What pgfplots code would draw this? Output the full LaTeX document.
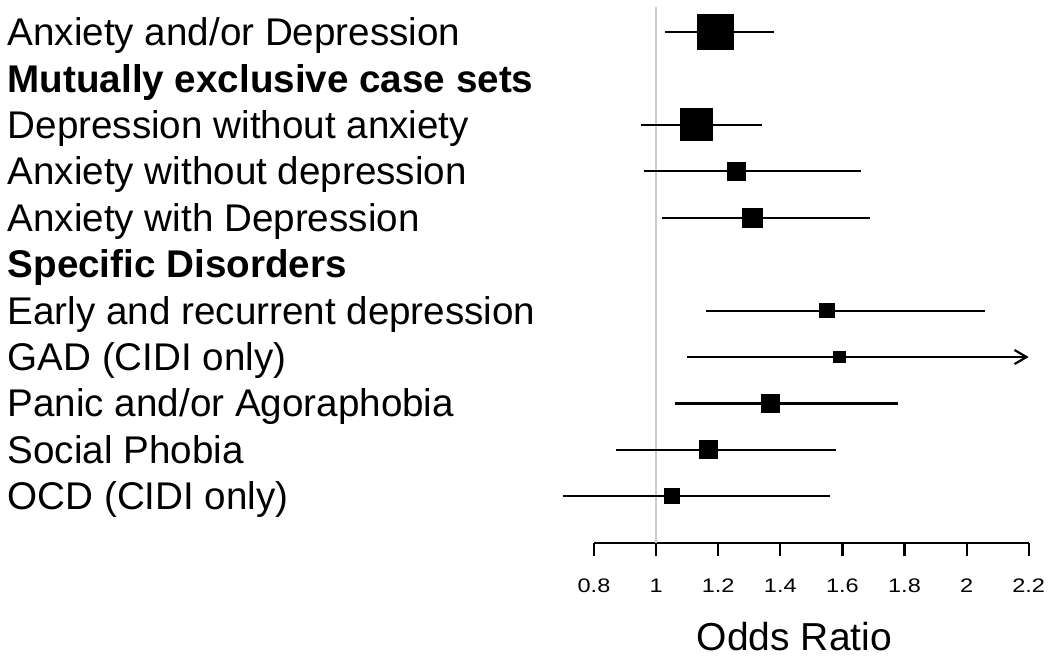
\documentclass[border=0pt]{standalone}
\usepackage{fontspec}
\setmainfont{Liberation Sans}
\newfontfamily\tickfont[FakeStretch=1.2]{Liberation Sans}
\usepackage{pgfplots}
\pgfplotsset{compat=1.18}
\usepackage{pgfplotstable}
\usetikzlibrary{arrows.meta}

% y = row position (11 = top), or = odds ratio, s = half side of square (pt)
\pgfplotstableread{
y or s
11 1.19 8.9
9 1.13 7.95
8 1.26 4.5
7 1.31 4.8
5 1.55 3.6
4 1.59 2.8
3 1.37 4.45
2 1.17 4.45
1 1.05 3.7
}\pointdata

\begin{document}
\begin{tikzpicture}
\path[use as bounding box] (0,0) rectangle (525pt,-329.5pt);
\begin{axis}[
 scale only axis, width=217.35pt, height=267.96pt,
 at={(297pt,-271.35pt)}, anchor=south west,
 xmin=0.8, xmax=2.2, ymin=0, ymax=11.545,
 clip=false,
 axis y line=none, axis x line*=bottom,
 x axis line style={-, line width=1.1pt},
 xtick={0.8,1,1.2,1.4,1.6,1.8,2,2.2},
 tick align=outside, major tick length=6.5pt,
 tick style={line width=1.1pt, black},
 xticklabel style={font=\tickfont\fontsize{9.8}{11}\selectfont, yshift=-8.2pt},
 /pgf/number format/assume math mode=true,
]
\addplot[gray!40, line width=1pt] coordinates {(1,0) (1,11.545)};
% confidence intervals
\addplot[black, line width=1.1pt] coordinates {(1.03,11) (1.38,11)};
\addplot[black, line width=1.1pt] coordinates {(0.95,9) (1.34,9)};
\addplot[black, line width=1.1pt] coordinates {(0.96,8) (1.66,8)};
\addplot[black, line width=1.1pt] coordinates {(1.02,7) (1.69,7)};
\addplot[black, line width=1.1pt] coordinates {(1.16,5) (2.06,5)};
\addplot[black, line width=1.1pt, -{Straight Barb[length=6pt,width=7pt,line width=1.1pt]}] coordinates {(1.10,4) (2.20,4)};
\addplot[black, line width=1.1pt] coordinates {(1.06,3) (1.78,3)};
\addplot[black, line width=1.1pt] coordinates {(0.87,2) (1.58,2)};
\addplot[black, line width=1.1pt] coordinates {(0.70,1) (1.56,1)};
% point estimates
\addplot[scatter, only marks, mark=square*,
  scatter/use mapped color={draw=black, fill=black},
  visualization depends on={\thisrow{s} \as \msize},
  scatter/@pre marker code/.append style={/tikz/mark size=\msize pt},
  mark options={line width=0.6pt, rounded corners=0.8pt}]
 table[x=or, y=y] {\pointdata};
\end{axis}
\begin{scope}[every node/.style={anchor=base west, inner sep=0pt, font=\fontsize{19.3}{23}\selectfont}]
\node at (3.65pt,{-(32.3*0.5+6.7)*1pt}) {Anxiety and/or Depression};
\node at (3.65pt,{-(78.7*0.5+6.7)*1pt}) {\bfseries Mutually exclusive case sets};
\node at (3.65pt,{-(125.1*0.5+6.7)*1pt}) {Depression without anxiety};
\node at (3.65pt,{-(171.5*0.5+6.7)*1pt}) {Anxiety without depression};
\node at (3.65pt,{-(217.9*0.5+6.7)*1pt}) {Anxiety with Depression};
\node at (3.65pt,{-(264.3*0.5+6.7)*1pt}) {\bfseries Specific Disorders};
\node at (3.65pt,{-(310.7*0.5+6.7)*1pt}) {Early and recurrent depression};
\node at (3.65pt,{-(357.1*0.5+6.7)*1pt}) {GAD (CIDI only)};
\node at (3.65pt,{-(403.5*0.5+6.7)*1pt}) {Panic and/or Agoraphobia};
\node at (3.65pt,{-(449.9*0.5+6.7)*1pt}) {Social Phobia};
\node at (3.65pt,{-(496.3*0.5+6.7)*1pt}) {OCD (CIDI only)};
\end{scope}
\node[anchor=base, inner sep=0pt, font=\fontsize{19.5}{23}\selectfont] at (397.25pt,-325pt) {Odds Ratio};
\end{tikzpicture}
\end{document}
